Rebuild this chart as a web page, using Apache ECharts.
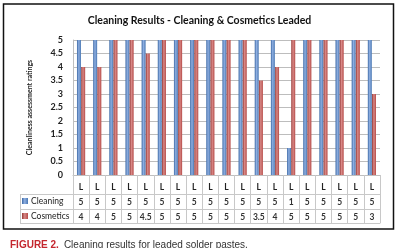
<!DOCTYPE html>
<html>
<head>
<meta charset="utf-8">
<script src="https://cdn.jsdelivr.net/npm/echarts@6/dist/echarts.min.js"></script>
<style>html,body{margin:0;padding:0;background:#fff;}#c{width:399px;height:248px;}</style>
</head>
<body>
<div id="c"></div>
<script>
var categories = ['L','L','L','L','L','L','L','L','L','L','L','L','L','L','L','L','L','L','L'];
var cleaning = [5,5,5,5,5,5,5,5,5,5,5,5,5,1,5,5,5,5,5];
var cosmetics = [4,4,5,5,4.5,5,5,5,5,5,5,3.5,4,5,5,5,5,5,3];
var yTicks = [0,0.5,1,1.5,2,2.5,3,3.5,4,4.5,5];
var seriesNames = ['Cleaning','Cosmetics'];

var chart = echarts.init(document.getElementById('c'), null, {renderer:'canvas'});
var tblColor = '#c8c8c8';
var blueGrad = new echarts.graphic.LinearGradient(0,0,1,0,[{offset:0,color:'#3d6aa6'},{offset:0.45,color:'#8eaee0'},{offset:1,color:'#4a78b3'}]);
var redGrad = new echarts.graphic.LinearGradient(0,0,1,0,[{offset:0,color:'#963a37'},{offset:0.45,color:'#d88886'},{offset:1,color:'#b64b48'}]);
var fontF = 'Lato, "Open Sans", sans-serif';

function valAxis(data, offset, tickLen, showLabel, showTick){
  return {
    type:'category', data:data, gridIndex:0, position:'bottom', offset:offset,
    axisLine:{show:true, lineStyle:{color:tblColor, width:1}},
    axisTick:{show:showTick, interval:0, length:tickLen, lineStyle:{color:tblColor}},
    axisLabel:{show:showLabel, interval:0, margin:4, fontSize:8.5, fontWeight:'bold', color:'#333', fontFamily:fontF},
    splitLine:{show:false}
  };
}

var option = {
  animation:false,
  backgroundColor:'#fff',
  title:[{
    text:'Cleaning Results - Cleaning & Cosmetics Leaded',
    left:'center', top:10,
    textStyle:{fontSize:10.5, fontWeight:'bold', color:'#111', fontFamily:fontF}
  },{
    text:'{a|FIGURE 2.} {b|Cleaning results for leaded solder pastes.}',
    left:5, top:231,
    textStyle:{fontWeight:'normal', rich:{
      a:{fontSize:10, fontWeight:'bold', color:'#c4262e', fontFamily:'"Liberation Sans", Arial, sans-serif'},
      b:{fontSize:10, fontWeight:'normal', color:'#333', fontFamily:'"Liberation Sans", Arial, sans-serif'}
    }}
  }],
  legend:{
    orient:'vertical', left:22, top:196, padding:0, itemGap:5, itemWidth:6, itemHeight:6,
    icon:'rect', data:seriesNames,
    textStyle:{fontSize:8.5, color:'#222', lineHeight:10, fontFamily:fontF, padding:[0,0,0,-2]},
    itemStyle:{borderWidth:0}
  },
  grid:{left:73, right:19, top:40, bottom:73},
  xAxis:[
    {
      type:'category', data:categories, gridIndex:0, position:'bottom', offset:0,
      axisLine:{show:true, lineStyle:{color:'#bfbfbf'}},
      axisTick:{show:true, interval:0, length:19, lineStyle:{color:tblColor}},
      axisLabel:{interval:0, margin:8, fontSize:8.5, fontWeight:'bold', color:'#222', fontFamily:fontF},
      splitLine:{show:false}
    },
    valAxis(cleaning.map(String), 19, 15, true, true),
    valAxis(cosmetics.map(String), 34, 14, true, true),
    valAxis(categories, 48, 0, false, false)
  ],
  yAxis:{
    type:'value', min:yTicks[0], max:yTicks[yTicks.length-1], interval:0.5,
    name:'Cleanliness assessment ratings', nameLocation:'middle', nameRotate:90, nameGap:40,
    nameTextStyle:{fontSize:7, fontWeight:'bold', color:'#222', fontFamily:fontF},
    axisLine:{show:true, lineStyle:{color:'#bfbfbf'}},
    axisTick:{show:false},
    axisLabel:{margin:10, fontSize:9, fontWeight:'bold', color:'#222', fontFamily:fontF,
      formatter:function(v){return String(v);}},
    splitLine:{show:true, lineStyle:{color:'#bdbdbd', width:1}}
  },
  series:[
    {name:seriesNames[0], type:'bar', data:cleaning, barWidth:4, barGap:'5%', itemStyle:{color:blueGrad}},
    {name:seriesNames[1], type:'bar', data:cosmetics, barWidth:4, barGap:'5%', itemStyle:{color:redGrad}}
  ],
  graphic:[
    {type:'rect', shape:{x:3.5, y:4, width:390, height:225}, style:{fill:null, stroke:'#111', lineWidth:1.5}, silent:true, z:100},
    {type:'line', shape:{x1:20, y1:194.5, x2:73, y2:194.5}, style:{stroke:tblColor, lineWidth:1}},
    {type:'line', shape:{x1:20, y1:209.5, x2:73, y2:209.5}, style:{stroke:tblColor, lineWidth:1}},
    {type:'line', shape:{x1:20, y1:223.5, x2:73, y2:223.5}, style:{stroke:tblColor, lineWidth:1}},
    {type:'line', shape:{x1:20.5, y1:194, x2:20.5, y2:224}, style:{stroke:tblColor, lineWidth:1}}
  ]
};
chart.setOption(option);
</script>
</body>
</html>
